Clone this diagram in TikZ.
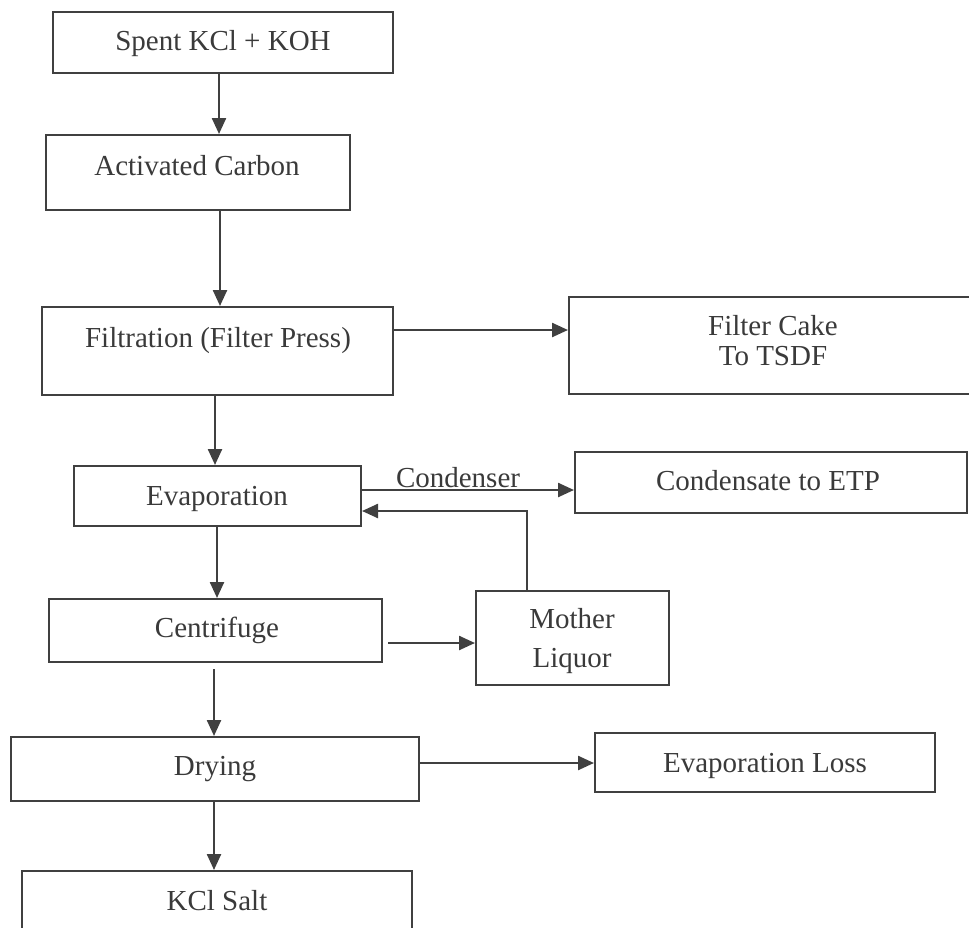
\documentclass[tikz,border=0pt]{standalone}
\usepackage{fontspec}
\setmainfont{Liberation Serif}
\usetikzlibrary{arrows.meta}
\definecolor{ink}{HTML}{404040}
\definecolor{txt}{HTML}{3A3A3A}
\begin{document}
\begin{tikzpicture}[x=1pt,y=-1pt,
  box/.style={draw=ink,line width=2pt,rectangle,inner sep=0pt},
  lbl/.style={text=txt,font=\fontsize{29}{36}\selectfont,inner sep=0pt,anchor=base},
  arr/.style={draw=ink,line width=2.4pt,-{Triangle[length=16pt,width=14pt]}}]
\useasboundingbox (0,0) rectangle (969,927);
\clip (0,0) rectangle (969,927);
% boxes
\node[box,minimum width=340pt,minimum height=61pt] (spent) at (223,42.5) {};
\node[box,minimum width=304pt,minimum height=75pt] (carbon) at (198,172.5) {};
\node[box,minimum width=351pt,minimum height=88pt] (filt) at (217.5,351) {};
\node[box,minimum width=411pt,minimum height=97pt] (cake) at (774.5,345.5) {};
\node[box,minimum width=287pt,minimum height=60pt] (evap) at (217.5,496) {};
\node[box,minimum width=392pt,minimum height=61pt] (cond) at (771,482.5) {};
\node[box,minimum width=333pt,minimum height=63pt] (centri) at (215.5,630.5) {};
\node[box,minimum width=193pt,minimum height=94pt] (mother) at (572.5,638) {};
\node[box,minimum width=408pt,minimum height=64pt] (drying) at (215,769) {};
\node[box,minimum width=340pt,minimum height=59pt] (loss) at (765,762.5) {};
\node[box,minimum width=390pt,minimum height=70pt] (salt) at (217,906) {};
% texts (baselines)
\node[lbl] (tspent) at (223,50) {Spent KCl + KOH};
\node[lbl] (tcarbon) at (197,175) {Activated Carbon};
\node[lbl] (tfilt) at (218,347) {Filtration (Filter Press)};
\node[lbl] (tcake1) at (773,335) {Filter Cake};
\node[lbl] (tcake2) at (773,365) {To TSDF};
\node[lbl] (tevap) at (217,505) {Evaporation};
\node[lbl] (tcond) at (768,490) {Condensate to ETP};
\node[lbl] (tcentri) at (217,637) {Centrifuge};
\node[lbl] (tmother1) at (572,628) {Mother};
\node[lbl] (tmother2) at (572,667) {Liquor};
\node[lbl] (tdrying) at (215,775) {Drying};
\node[lbl] (tloss) at (765,772) {Evaporation Loss};
\node[lbl] (tsalt) at (217,910) {KCl Salt};
% connectors
\draw[arr] (spent.south) ++(-4,0) coordinate (a1) -- (a1 |- carbon.north);
\draw[arr] (carbon.south) ++(22,0) coordinate (a2) -- (a2 |- filt.north);
\draw[arr] (filt.east) ++(0,-21) coordinate (a3) -- (a3 -| cake.west);
\draw[arr] (filt.south) ++(-2.5,0) coordinate (a4) -- (a4 |- evap.north);
\draw[arr] (evap.east) ++(0,-6) coordinate (a5) -- (a5 -| cond.west)
  node[pos=0.453,lbl,yshift=3pt] (tcondenser) {Condenser};
\draw[arr] (mother.north) ++(-45.5,0) coordinate (a6) -- ++(0,-79) coordinate (a7) -- (a7 -| evap.east);
\draw[arr] (evap.south) ++(-0.5,0) coordinate (a8) -- (a8 |- centri.north);
\draw[arr] (centri.east) ++(5,12.5) coordinate (a9) -- (a9 -| mother.west);
\draw[arr] (centri.south) ++(-1.5,6) coordinate (a10) -- (a10 |- drying.north);
\draw[arr] (drying.east) ++(0,-6) coordinate (a11) -- (a11 -| loss.west);
\draw[arr] (drying.south) ++(-1,0) coordinate (a12) -- (a12 |- salt.north);
\end{tikzpicture}
\end{document}
